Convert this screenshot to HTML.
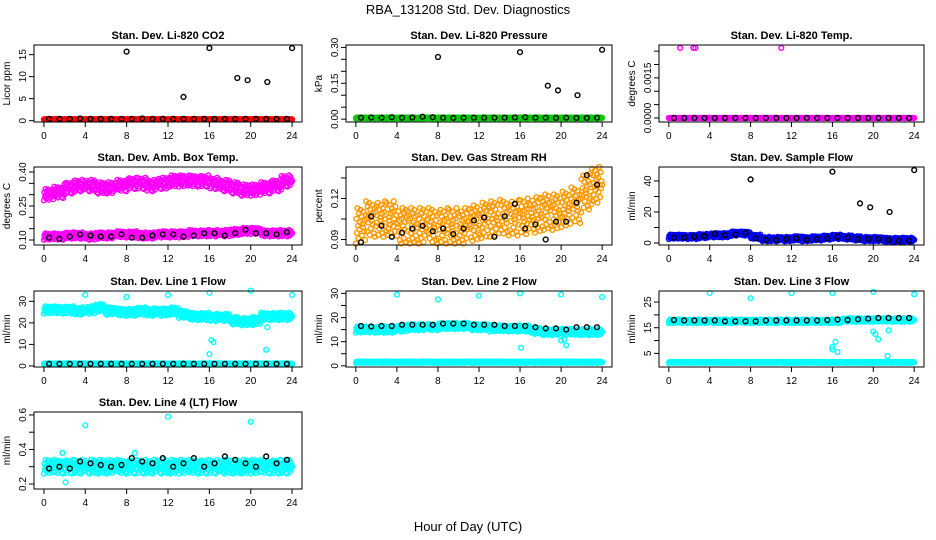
<!DOCTYPE html>
<html><head><meta charset="utf-8"><style>
body{margin:0;background:#fff}
svg{display:block;font-family:"Liberation Sans",sans-serif}
</style></head><body>
<svg id="c" width="936" height="540" viewBox="0 0 936 540">
<text x="468" y="14" text-anchor="middle" font-size="13">RBA_131208  Std. Dev. Diagnostics</text>
<text x="468" y="531" text-anchor="middle" font-size="13">Hour of Day (UTC)</text>
</svg>
<script>
const hours = [0,1,2,3,4,5,6,7,8,9,10,11,12,13,14,15,16,17,18,19,20,21,22,23];
const co2Band = [0.3,0.3,0.3,0.3,0.3,0.3,0.3,0.3,0.3,0.3,0.3,0.3,0.3,0.3,0.3,0.3,0.3,0.3,0.3,0.3,0.3,0.3,0.3,0.3];
const co2Black = [0.4,0.4,0.4,0.5,0.4,0.4,0.4,0.4,0.4,0.5,0.4,0.4,0.4,0.4,0.4,0.4,0.4,0.4,0.4,0.4,0.4,0.4,0.4,0.4];
const co2OutX = [8,13.5,16,18.7,19.7,21.6,24];
const co2OutY = [15.7,5.4,16.5,9.7,9.2,8.8,16.5];
const presBand = [0.005,0.005,0.005,0.005,0.005,0.005,0.005,0.005,0.005,0.005,0.005,0.005,0.005,0.005,0.005,0.005,0.005,0.005,0.005,0.005,0.005,0.005,0.005,0.005];
const presBlack = [0.006,0.007,0.006,0.008,0.006,0.007,0.01,0.008,0.006,0.005,0.006,0.006,0.006,0.006,0.006,0.007,0.008,0.006,0.006,0.005,0.006,0.005,0.005,0.006];
const presOutX = [8,16,18.7,19.7,21.6,24];
const presOutY = [0.26,0.28,0.14,0.12,0.10,0.29];
const tempBand = [0,0,0,0,0,0,0,0,0,0,0,0,0,0,0,0,0,0,0,0,0,0,0,0];
const tempOutX = [1.1,2.4,2.6,11];
const tempOutY = [0.00262,0.00262,0.00262,0.00262];
const boxUpper = [0.30,0.31,0.33,0.34,0.34,0.33,0.33,0.34,0.35,0.35,0.34,0.35,0.36,0.36,0.36,0.36,0.35,0.34,0.33,0.32,0.32,0.33,0.34,0.36];
const boxLower = [0.115,0.115,0.12,0.12,0.115,0.12,0.12,0.125,0.125,0.12,0.12,0.125,0.125,0.125,0.13,0.13,0.13,0.13,0.135,0.14,0.14,0.13,0.13,0.13];
const boxBlack = [0.11,0.105,0.115,0.125,0.12,0.115,0.115,0.125,0.11,0.11,0.12,0.125,0.125,0.115,0.12,0.13,0.13,0.12,0.13,0.145,0.13,0.13,0.125,0.135];
const rhBand = [0.100,0.105,0.105,0.105,0.100,0.100,0.100,0.100,0.100,0.100,0.100,0.102,0.104,0.105,0.106,0.106,0.107,0.108,0.110,0.110,0.112,0.115,0.125,0.130];
const rhBlack = [0.088,0.107,0.100,0.092,0.095,0.098,0.100,0.096,0.098,0.094,0.098,0.104,0.106,0.092,0.107,0.116,0.098,0.101,0.090,0.103,0.103,0.117,0.137,0.130];
const flowBand = [4,4,4,4.5,5,5,6,6,4,2.5,2.5,2.5,3,2.5,3,3.5,4,3.5,3,2.5,2.5,2,2,2];
const flowBlack = [3.5,3.5,4,4.5,6,5,5.5,6.5,3,2,2,2.5,3,2,2.5,3,4,3.5,2.5,2.5,2.5,2,1.5,1.5];
const flowOutX = [8,16,18.7,19.7,21.6,24];
const flowOutY = [41,46,25.5,23,20,47];
const l1Band = [26,26,26,25.5,26,27,25.5,25,25,25.5,25,25,25.5,24,23,23,22.5,22.5,21,20.5,21,23,23,23];
const l1Low = [1,1,1,1,1,1,1,1,1,1,1,1,1,1,1,1,1,1,1,1,1,1,1,1];
const l1OutX = [4,8,12,16,20,24,16,16.2,16.4,20.2,21.5,21.6];
const l1OutY = [33,32,33,34,35,33,5.5,12,11,19,7.5,18];
const l2Band = [15,15,15,15,15.5,16,16,16,16.5,16.5,16.5,16,16,15.5,15.5,15.5,15.5,14.5,14,14,14,14,14,14];
const l2Black = [16.5,16.3,16.5,16.5,17,17,17,17,17.5,17.5,17.5,17,17,17,16.5,16.5,16.5,16,15.5,15.5,15,16,16,16];
const l2OutX = [4,8,12,16,20,24,16.1,20,20.3,20.5];
const l2OutY = [29.5,27.5,29,30,29.5,28.5,7.5,10.5,11,8.5];
const l3Band = [17.5,17.5,17.5,17.5,17.5,17.5,17.5,17.5,17.5,17.5,17.5,17.5,17.5,17.5,17.5,17.5,17.5,18,18,18,18,18,18,18];
const l3Low = [1.5,1.5,1.5,1.5,1.5,1.5,1.5,1.5,1.5,1.5,1.5,1.5,1.5,1.5,1.5,1.5,1.5,1.5,1.5,1.5,1.5,1.5,1.5,1.5];
const l3Black = [18,17.8,17.8,17.8,17.8,17.5,17.5,17.5,17.5,17.8,17.8,17.8,17.8,17.8,17.8,18,18.2,18,18.3,18.5,18.8,18.8,18.8,18.8];
const l3OutX = [4,8,12,16,20,24,16,16,16.3,16.5,20,20.2,20.5,21.5,21.4];
const l3OutY = [28.5,26.5,28.5,28.5,29,28,7.5,6.5,9.5,5.5,13.5,12.5,10.5,14,4];
const l4Band = [0.30,0.30,0.30,0.30,0.30,0.30,0.30,0.30,0.30,0.30,0.30,0.30,0.30,0.30,0.30,0.30,0.30,0.30,0.30,0.30,0.30,0.30,0.30,0.30];
const l4Black = [0.29,0.30,0.29,0.33,0.32,0.31,0.30,0.31,0.35,0.33,0.32,0.35,0.30,0.32,0.35,0.30,0.32,0.36,0.34,0.32,0.30,0.36,0.32,0.34];
const l4OutX = [4,12,20,1.8,2.1,8.8];
const l4OutY = [0.54,0.59,0.56,0.38,0.21,0.38];

const NS='http://www.w3.org/2000/svg';
const svg=document.getElementById('c');
function mk(tag,attrs,parent){const e=document.createElementNS(NS,tag);for(const k in attrs)e.setAttribute(k,attrs[k]);(parent||svg).appendChild(e);return e;}
const cols=[[34,302],[346,612],[659,924]];
const rows=[[45,122],[167,245],[291,367],[412,489]];
const offs=[-1,0.4,-0.4,1,0,-0.7,0.7,-0.2,0.2,0.9,-0.9,0.55,-0.55,0.1,-0.1,0.8,-0.3,0.3,-0.8,0.6];
const SUB=20;

function panel(name,ci,ri,title,ylab,ymin,ymax,ticks,labels,layers){
  const g=mk('g',{});
  
  
  const [x0,x1]=cols[ci],[y0,y1]=rows[ri];
  const X=v=>x0+(v+0.96)/25.92*(x1-x0);
  const Y=v=>y1-(v-ymin)/(ymax-ymin)*(y1-y0);
  const t=mk('text',{x:(x0+x1)/2,y:y0-6,'text-anchor':'middle','font-size':11,'font-weight':'bold'},g);t.textContent=title;
  
  const yl=mk('text',{x:0,y:0,'text-anchor':'middle','font-size':10,transform:`translate(${x0-24},${(y0+y1)/2}) rotate(-90)`},g);yl.textContent=ylab;
  
  const plot=mk('g',{},g);
  
  layers.forEach(L=>{
    const pts=[];
    if(L.band){for(let i=0;i<hours.length;i++)for(let j=0;j<SUB;j++){const x=hours[i]+j/SUB;pts.push([x,L.band[i]+offs[(j+i*3)%offs.length]*(L.spread||0)]);}pts.push([24,L.band[L.band.length-1]]);}
    if(L.black){for(let i=0;i<hours.length;i++)pts.push([hours[i]+0.5,L.black[i]]);}
    if(L.xs){for(let i=0;i<L.xs.length;i++)pts.push([L.xs[i],L.ys[i]]);}
    pts.forEach(p=>{
      const c=mk('circle',{cx:X(p[0]).toFixed(1),cy:Y(p[1]).toFixed(1),r:2.4,fill:'none',stroke:L.color,'stroke-width':1.4},plot);
      
      
    });
  });
  mk('rect',{x:x0,y:y0,width:x1-x0,height:y1-y0,fill:'none',stroke:'#000','stroke-width':1},g);
  [0,4,8,12,16,20,24].forEach(v=>{
    mk('line',{x1:X(v),x2:X(v),y1:y1,y2:y1+5,stroke:'#000'},g);
    const tx=mk('text',{x:X(v),y:y1+17,'text-anchor':'middle','font-size':10},g);tx.textContent=v;
    
  });
  ticks.forEach((v,i)=>{
    mk('line',{x1:x0-5,x2:x0,y1:Y(v),y2:Y(v),stroke:'#000'},g);
    if(labels[i]!==''){const ty=mk('text',{x:0,y:0,'text-anchor':'middle','font-size':10,transform:`translate(${x0-8},${Y(v)}) rotate(-90)`},g);ty.textContent=labels[i];
    }
  });
}
panel('panel-co2',0,0,'Stan. Dev. Li-820 CO2','Licor ppm',-0.3,17.2,[0,5,10,15],['0','5','10','15'],
 [{band:co2Band,spread:0,color:'#ff0000'},{black:co2Black,color:'#000'},{xs:co2OutX,ys:co2OutY,color:'#000'}]);
panel('panel-pressure',1,0,'Stan. Dev. Li-820 Pressure','kPa',-0.012,0.31,[0,0.05,0.1,0.15,0.2,0.25,0.3],['0.00','','','0.15','','','0.30'],
 [{band:presBand,spread:0.002,color:'#00cc00'},{black:presBlack,color:'#000'},{xs:presOutX,ys:presOutY,color:'#000'}]);
panel('panel-temp',2,0,'Stan. Dev. Li-820 Temp.','degrees C',-0.00015,0.00273,[0,0.0005,0.001,0.0015,0.002,0.0025],['0.0000','','','0.0015','',''],
 [{band:tempBand,spread:0,color:'#ff00ff'},{black:tempBand,color:'#000'},{xs:tempOutX,ys:tempOutY,color:'#ff00ff'}]);
panel('panel-box-temp',0,1,'Stan. Dev. Amb. Box Temp.','degrees C',0.078,0.422,[0.1,0.15,0.2,0.25,0.3,0.35,0.4],['0.10','','','0.25','','','0.40'],
 [{band:boxUpper,spread:0.025,color:'#ff00ff'},{band:boxLower,spread:0.014,color:'#ff00ff'},{black:boxBlack,color:'#000'}]);
panel('panel-rh',1,1,'Stan. Dev. Gas Stream RH','percent',0.086,0.143,[0.09,0.105,0.12,0.135],['0.09','','0.12',''],
 [{band:rhBand,spread:0.013,color:'#ff9900'},{black:rhBlack,color:'#000'}]);
panel('panel-sample-flow',2,1,'Stan. Dev. Sample Flow','ml/min',-1.3,49,[0,10,20,30,40],['0','','20','','40'],
 [{band:flowBand,spread:1.4,color:'#0000ee'},{black:flowBlack,color:'#000'},{xs:flowOutX,ys:flowOutY,color:'#000'}]);
panel('panel-line1',0,2,'Stan. Dev. Line 1 Flow','ml/min',-0.5,34.8,[0,10,20,30],['0','10','20','30'],
 [{band:l1Band,spread:1.7,color:'#00ffff'},{band:l1Low,spread:0.2,color:'#00ffff'},{black:l1Low,color:'#000'},{xs:l1OutX,ys:l1OutY,color:'#00ffff'}]);
panel('panel-line2',1,2,'Stan. Dev. Line 2 Flow','ml/min',-0.5,31,[0,5,10,15,20,25,30],['0','','10','','20','','30'],
 [{band:l2Band,spread:1.3,color:'#00ffff'},{band:l3Low,spread:0.3,color:'#00ffff'},{black:l2Black,color:'#000'},{xs:l2OutX,ys:l2OutY,color:'#00ffff'}]);
panel('panel-line3',2,2,'Stan. Dev. Line 3 Flow','ml/min',-0.3,29.3,[5,10,15,20,25],['5','','15','','25'],
 [{band:l3Band,spread:0.7,color:'#00ffff'},{band:l3Low,spread:0.2,color:'#00ffff'},{black:l3Black,color:'#000'},{xs:l3OutX,ys:l3OutY,color:'#00ffff'}]);
panel('panel-line4',0,3,'Stan. Dev. Line 4 (LT) Flow','ml/min',0.171,0.617,[0.2,0.3,0.4,0.5,0.6],['0.2','','0.4','','0.6'],
 [{band:l4Band,spread:0.04,color:'#00ffff'},{black:l4Black,color:'#000'},{xs:l4OutX,ys:l4OutY,color:'#00ffff'}]);
</script>
</body></html>
